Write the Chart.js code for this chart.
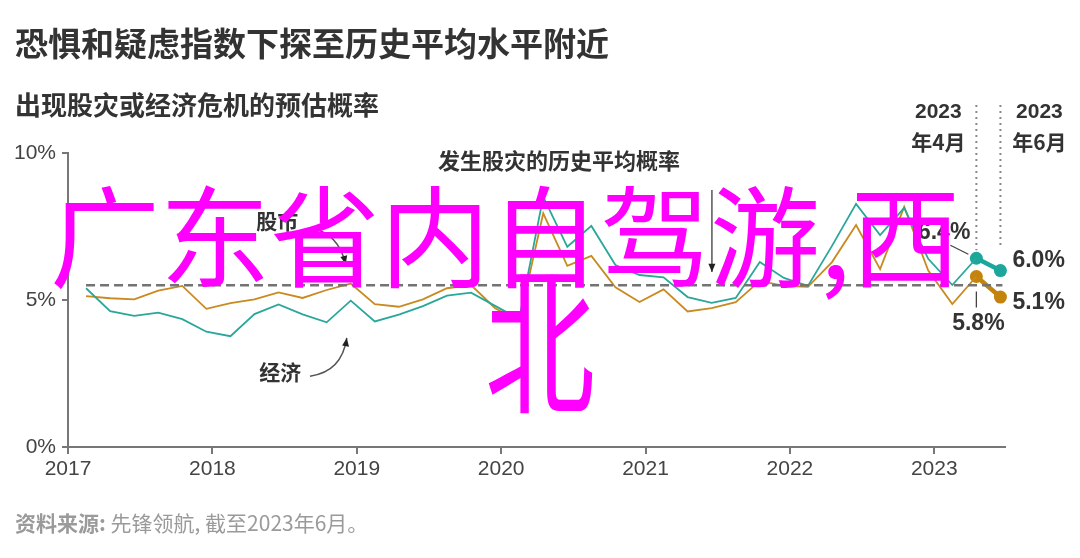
<!DOCTYPE html>
<html>
<head>
<meta charset="utf-8">
<script src="https://cdn.jsdelivr.net/npm/chart.js@4.4.0/dist/chart.umd.min.js"></script>
<style>
  html, body { margin: 0; padding: 0; background: #fff; }
  #wrap { position: relative; width: 1080px; height: 558px; overflow: hidden; font-family: 'Noto Sans CJK SC', sans-serif; }
  #c { position: absolute; left: 0; top: 0; }
  .title { position: absolute; left: 15px; top: 22px; font-size: 33px; line-height: 40px; font-weight: bold; color: #333; }
  .sub { position: absolute; left: 15px; top: 89px; font-size: 26px; line-height: 30px; font-weight: bold; color: #333; }
  .src { position: absolute; left: 15px; top: 509px; font-size: 21px; line-height: 26px; color: #9a9a9a; }
  .wm { position: absolute; font-size: 110px; line-height: 130px; color: #ff00ff; white-space: nowrap; }
  .tall { transform: scaleY(1.4); transform-origin: 0 0; }
</style>
</head>
<body>
<div id="wrap">
  <canvas id="c" width="1080" height="558"></canvas>
  <div class="title">恐惧和疑虑指数下探至历史平均水平附近</div>
  <div class="sub">出现股灾或经济危机的预估概率</div>
  <div class="src"><b>资料来源:</b> 先锋领航, 截至2023年6月。</div>
  <div class="wm" style="left:50px; top:166px;">广东省内自驾游,西</div>
  <div class="wm tall" style="left:485px; top:244px;">北</div>
</div>
<script>
// bimonthly readings, 2017-02 .. 2023-06
const dates = [
  '2017-02', '2017-04', '2017-06', '2017-08', '2017-10', '2017-12',
  '2018-02', '2018-04', '2018-06', '2018-08', '2018-10', '2018-12',
  '2019-02', '2019-04', '2019-06', '2019-08', '2019-10', '2019-12',
  '2020-02', '2020-04', '2020-06', '2020-08', '2020-10', '2020-12',
  '2021-02', '2021-04', '2021-06', '2021-08', '2021-10', '2021-12',
  '2022-02', '2022-04', '2022-06', '2022-08', '2022-10', '2022-12',
  '2023-02', '2023-04', '2023-06'
];
// 经济 (teal)
const economy = [
  5.40, 4.62, 4.46, 4.57, 4.35, 3.92, 3.77, 4.52, 4.85, 4.51, 4.24, 4.98, 4.27,
  4.50, 4.79, 5.15, 5.25, 4.80, 4.35, 8.51, 6.81, 7.52, 6.19, 5.85, 5.77, 5.10,
  4.90, 5.07, 6.29, 5.75, 5.48, 6.84, 8.27, 7.21, 8.13, 6.40, 5.51, 6.42, 6.00
];
// 股市 (orange)
const stock = [
  5.13, 5.06, 5.02, 5.32, 5.48, 4.70, 4.89, 5.02, 5.26, 5.07, 5.34, 5.56, 4.86,
  4.77, 5.02, 5.40, 5.51, 4.72, 4.29, 7.95, 6.16, 6.50, 5.43, 4.93, 5.36, 4.61,
  4.72, 4.93, 5.65, 5.48, 5.45, 6.29, 7.55, 6.05, 8.17, 6.00, 4.86, 5.80, 5.10
];
const avgRate = 5.5;
const yearTicks = [2017, 2018, 2019, 2020, 2021, 2022, 2023];
const pctTicks = [0, 5, 10];
const endLabels = ['2023', '年4月', '2023', '年6月'];

const TEAL = '#2aa79b', ORANGE = '#c98a1f';
const TEAL_DK = '#1da79c', ORANGE_DK = '#c4830c';
const n = dates.length;

function toYear(d) {
  const [yy, mm] = d.split('-').map(Number);
  return yy + (mm - 0.5) / 12;
}
const pts = vals => vals.map((v, i) => ({ x: toYear(dates[i]), y: v }));

function arrow(ctx, x0, y0, cx, cy, x1, y1) {
  ctx.beginPath();
  ctx.moveTo(x0, y0);
  ctx.quadraticCurveTo(cx, cy, x1, y1);
  ctx.stroke();
  const a = Math.atan2(y1 - cy, x1 - cx);
  ctx.beginPath();
  ctx.moveTo(x1, y1);
  ctx.lineTo(x1 - 9 * Math.cos(a - 0.4), y1 - 9 * Math.sin(a - 0.4));
  ctx.lineTo(x1 - 9 * Math.cos(a + 0.4), y1 - 9 * Math.sin(a + 0.4));
  ctx.closePath();
  ctx.fill();
}

const notes = {
  id: 'notes',
  afterDatasetsDraw(chart) {
    const { ctx, scales: { x, y } } = chart;
    const px = v => x.getPixelForValue(v), py = v => y.getPixelForValue(v);
    const xPrev = px(toYear(dates[n - 2])), xLast = px(toYear(dates[n - 1]));
    ctx.save();

    // historical average, dashed
    ctx.strokeStyle = '#737373';
    ctx.lineWidth = 2.5;
    ctx.setLineDash([9, 5]);
    ctx.beginPath();
    ctx.moveTo(px(toYear(dates[0])), py(avgRate));
    ctx.lineTo(xLast + 2, py(avgRate));
    ctx.stroke();

    // dotted guides for the last two readings
    ctx.strokeStyle = '#888';
    ctx.lineWidth = 2;
    ctx.setLineDash([2, 4]);
    ctx.beginPath();
    ctx.moveTo(xPrev, 105); ctx.lineTo(xPrev, py(economy[n - 2]) - 8);
    ctx.moveTo(xLast, 105); ctx.lineTo(xLast, py(economy[n - 1]) - 22);
    ctx.stroke();
    ctx.setLineDash([]);

    // annotations
    ctx.fillStyle = '#333';
    ctx.textBaseline = 'middle';
    ctx.textAlign = 'center';
    ctx.font = 'bold 22px "Noto Sans CJK SC"';
    ctx.fillText('发生股灾的历史平均概率', px(2020.40), py(9.73));
    ctx.font = 'bold 21px "Noto Sans CJK SC"';
    ctx.fillText('股市', px(2018.45), py(7.69));
    ctx.fillText('经济', px(2018.47), py(2.55));

    ctx.strokeStyle = '#555';
    ctx.fillStyle = '#222';
    ctx.lineWidth = 1.5;
    arrow(ctx, px(2021.46), py(8.74), px(2021.46), py(7.3), px(2021.46), py(5.95));
    arrow(ctx, px(2018.676), py(7.45), px(2018.868), py(7.31), px(2018.924), py(6.22));
    arrow(ctx, px(2018.676), py(2.41), px(2018.896), py(2.55), px(2018.931), py(3.71));

    // date headers
    ctx.fillStyle = '#333';
    ctx.font = 'bold 21px "Liberation Sans", Arial';
    ctx.fillText(endLabels[0], xPrev - 38, 112);
    ctx.fillText(endLabels[2], xLast + 39, 112);
    ctx.font = 'bold 21px "Noto Sans CJK SC"';
    ctx.fillText(endLabels[1], xPrev - 38, 142);
    ctx.fillText(endLabels[3], xLast + 39, 142);

    // value labels
    const fmt = v => v.toFixed(1) + '%';
    ctx.font = 'bold 23px "Liberation Sans", Arial';
    ctx.textAlign = 'left';
    ctx.fillText(fmt(economy[n - 1]), xLast + 12, py(economy[n - 1]) - 10);
    ctx.fillText(fmt(stock[n - 1]), xLast + 12, py(stock[n - 1]) + 6);
    ctx.textAlign = 'center';
    ctx.fillText(fmt(stock[n - 2]), xPrev + 2, py(stock[n - 2]) + 47);
    ctx.textAlign = 'right';
    ctx.fillText(fmt(economy[n - 2]), xPrev - 6, py(economy[n - 2]) - 26);

    ctx.strokeStyle = '#444';
    ctx.lineWidth = 1.3;
    ctx.beginPath();
    ctx.moveTo(xPrev, py(stock[n - 2]) + 15); ctx.lineTo(xPrev, py(stock[n - 2]) + 31);
    ctx.moveTo(xPrev - 26, py(economy[n - 2]) - 13); ctx.lineTo(xPrev - 8, py(economy[n - 2]) - 4);
    ctx.stroke();
    ctx.restore();
  }
};

const axisFont = { family: '"Liberation Sans", Arial', size: 21 };

new Chart(document.getElementById('c'), {
  type: 'line',
  data: {
    datasets: [
      { label: '经济', data: pts(economy).slice(0, n - 1), borderColor: TEAL, borderWidth: 1.8, pointRadius: 0, tension: 0 },
      { label: '股市', data: pts(stock).slice(0, n - 1), borderColor: ORANGE, borderWidth: 1.8, pointRadius: 0, tension: 0 },
      { label: '经济 end', data: pts(economy).slice(n - 2), borderColor: TEAL_DK, borderWidth: 4.5,
        pointRadius: 6.5, pointBackgroundColor: TEAL_DK, pointBorderWidth: 0, clip: false },
      { label: '股市 end', data: pts(stock).slice(n - 2), borderColor: ORANGE_DK, borderWidth: 4.5,
        pointRadius: 6.5, pointBackgroundColor: ORANGE_DK, pointBorderWidth: 0, clip: false }
    ]
  },
  options: {
    responsive: false,
    animation: false,
    devicePixelRatio: 1,
    layout: { padding: { top: 153, right: 75, left: 0, bottom: 0 } },
    plugins: { legend: { display: false }, tooltip: { enabled: false } },
    scales: {
      x: {
        type: 'linear',
        min: 2017,
        max: 2023.49,
        afterBuildTicks: s => { s.ticks = yearTicks.map(v => ({ value: v })); },
        afterFit: s => { s.height = 111; },
        ticks: { font: axisFont, color: '#444', padding: 3, maxRotation: 0, callback: v => String(v) },
        grid: { drawOnChartArea: false, drawTicks: true, tickLength: 7, color: '#777', lineWidth: 2 },
        border: { display: true, color: '#777', width: 2 }
      },
      y: {
        min: 0,
        max: 10,
        afterBuildTicks: s => { s.ticks = pctTicks.map(v => ({ value: v })); },
        afterFit: s => { s.width = 68; },
        ticks: { font: axisFont, color: '#444', padding: 6, callback: v => v + '%' },
        grid: { drawOnChartArea: false, drawTicks: true, tickLength: 6, color: '#777', lineWidth: 2 },
        border: { display: true, color: '#777', width: 2 }
      }
    }
  },
  plugins: [notes]
});
</script>
</body>
</html>
